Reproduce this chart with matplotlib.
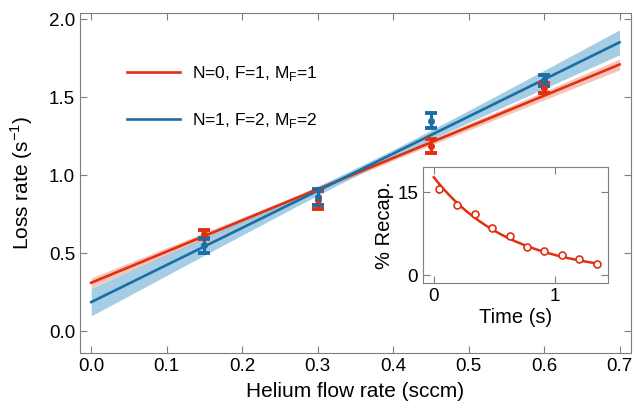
import numpy as np
import matplotlib.pyplot as plt

plt.rcParams['font.family'] = ['Liberation Sans', 'DejaVu Sans']

# main panel data: loss rate vs helium flow
flow = [0.15, 0.30, 0.45, 0.60]
rate_n0 = [0.62, 0.84, 1.19, 1.56]
err_n0 = [0.03, 0.06, 0.045, 0.03]
rate_n1 = [0.55, 0.86, 1.35, 1.61]
err_n1 = [0.05, 0.05, 0.05, 0.035]

# linear fits: intercept, slope, intercept-at-centre error, slope error, centre
fit_n0 = dict(b=0.31, m=2.0, s0=0.015, s1=0.085, xc=0.33)
fit_n1 = dict(b=0.186, m=2.38, s0=0.025, s1=0.23, xc=0.37)

# inset: recapture vs time
t_recap = [0.04, 0.19, 0.34, 0.48, 0.63, 0.77, 0.91, 1.06, 1.20, 1.35]
recap = [15.5, 12.7, 11.0, 8.6, 7.1, 5.1, 4.4, 3.6, 2.9, 2.1]
recap_err = [0.9, 0.7, 0.4, 0.3, 0.3, 0.3, 0.3, 0.3, 0.3, 0.3]
decay_amp, decay_tau = 17.7, 0.634

RED = '#e0300f'
BLUE = '#1a6ea6'
GREY = '#7f7f7f'


def style(ax, size=13):
    for s in ax.spines.values():
        s.set_color(GREY)
    ax.tick_params(direction='in', top=True, right=True, color=GREY,
                   length=5, labelsize=size)


fig = plt.figure(figsize=(6.34, 4.08), dpi=100)
ax = fig.add_axes([0.126, 0.135, 0.869, 0.833])

x = np.linspace(0.0, 0.7, 200)
for fit, col, band in [(fit_n0, RED, '#f4b4aa'), (fit_n1, BLUE, '#8fc1dc')]:
    y = fit['b'] + fit['m'] * x
    w = np.sqrt(fit['s0'] ** 2 + (fit['s1'] * (x - fit['xc'])) ** 2)
    ax.fill_between(x, y - w, y + w, color=band, alpha=0.8, lw=0)
for fit, col, lab in [(fit_n0, RED, 'N=0, F=1, M$_\\mathregular{F}$=1'),
                      (fit_n1, BLUE, 'N=1, F=2, M$_\\mathregular{F}$=2')]:
    ax.plot(x, fit['b'] + fit['m'] * x, color=col, lw=1.9, label=lab)

ax.errorbar(flow, rate_n0, yerr=err_n0, fmt='o', color=RED, ms=4,
            elinewidth=2.2, capsize=4.5, capthick=2.8)
ax.errorbar(flow, rate_n1, yerr=err_n1, fmt='o', color=BLUE, ms=4,
            elinewidth=2.2, capsize=4.5, capthick=2.8)

ax.set_xlim(-0.015, 0.715)
ax.set_ylim(-0.14, 2.04)
ax.set_xticks(np.arange(0, 0.71, 0.1))
ax.set_yticks([0.0, 0.5, 1.0, 1.5, 2.0])
ax.set_xlabel('Helium flow rate (sccm)', fontsize=15, labelpad=5)
ax.set_ylabel('Loss rate (s$^{\\mathregular{-1}}$)', fontsize=15, labelpad=10)
style(ax, 13.5)
ax.legend(loc='upper left', bbox_to_anchor=(0.058, 0.895), frameon=False,
          fontsize=12.5, handlelength=3.0, labelspacing=1.6, handletextpad=0.7)

# inset
ins = fig.add_axes([0.667, 0.306, 0.292, 0.284])
tt = np.linspace(0, 1.35, 200)
ins.plot(tt, decay_amp * np.exp(-tt / decay_tau), color=RED, lw=1.8)
ins.errorbar(t_recap, recap, yerr=recap_err, fmt='o', mfc='white',
             mec=RED, color=RED, ms=5, mew=1.2, elinewidth=1.2, capsize=0)
ins.set_xlim(-0.09, 1.44)
ins.set_ylim(-1.45, 19.5)
ins.set_xticks([0, 1])
ins.set_yticks([0, 15])
ins.set_xlabel('Time (s)', fontsize=14.5, labelpad=2)
ins.set_ylabel('% Recap.', fontsize=14.5, labelpad=2)
style(ins, 13.5)

fig.savefig('out.png', dpi=100)
